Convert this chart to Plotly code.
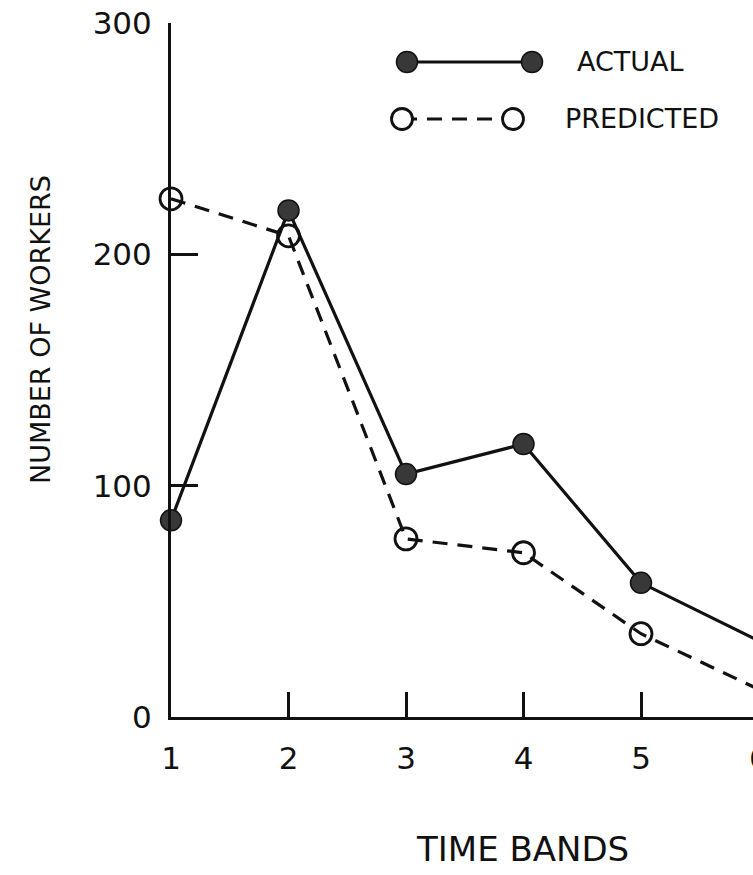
import plotly.graph_objects as go

# ---- data ----
bands = [1, 2, 3, 4, 5, 6]
actual = [85, 219, 105, 118, 58, 33]
predicted = [224, 208, 77, 71, 36, 12]
x_tick_vals = [1, 2, 3, 4, 5]
x_tick_text = ["1", "2", "3", "4", "5"]
y_tick_vals = [0, 100, 200, 300]
y_tick_text = ["0", "100", "200", "300"]
series_names = ["ACTUAL", "PREDICTED"]
x_title = "TIME BANDS"
y_title = "NUMBER OF WORKERS"
offscreen_tick = "6"

# ---- layout geometry ----
W, H = 753, 875
L, R, T, B = 171, 0, 23, 158
PW, PH = W - L - R, H - T - B
BAND_PX = 117.5
FONT = "DejaVu Sans"
INK = "#111111"


def pxx(p):
    return (p - L) / PW


def pxy(p):
    return (H - B - p) / PH


fig = go.Figure()

fig.add_trace(go.Scatter(
    x=bands, y=actual, mode="lines+markers", name=series_names[0],
    line=dict(color=INK, width=3.2),
    marker=dict(symbol="circle", size=21, color="#383838",
                line=dict(color=INK, width=1.5)),
    cliponaxis=False, showlegend=False,
))
fig.add_trace(go.Scatter(
    x=bands, y=predicted, mode="lines+markers", name=series_names[1],
    line=dict(color=INK, width=3.2, dash="15px,10px"),
    marker=dict(symbol="circle-open", size=22, color=INK,
                line=dict(color=INK, width=2.8)),
    cliponaxis=False, showlegend=False,
))

shapes = []
annotations = []

# legend: ACTUAL
ya = 62
shapes.append(dict(type="line", xref="paper", yref="paper",
                   x0=pxx(407), x1=pxx(532), y0=pxy(ya), y1=pxy(ya),
                   line=dict(color=INK, width=3)))
for cx in (407, 532):
    shapes.append(dict(type="circle", xref="paper", yref="paper",
                       xsizemode="pixel", ysizemode="pixel",
                       xanchor=pxx(cx), yanchor=pxy(ya),
                       x0=-10.5, x1=10.5, y0=-10.5, y1=10.5,
                       fillcolor="#383838", line=dict(color=INK, width=1.5)))
annotations.append(dict(text=series_names[0], x=pxx(575), y=pxy(ya),
                        xref="paper", yref="paper", xanchor="left",
                        yanchor="middle", showarrow=False,
                        font=dict(family=FONT, size=27, color=INK)))
# legend: PREDICTED
yp = 119
shapes.append(dict(type="line", xref="paper", yref="paper",
                   x0=pxx(402), x1=pxx(513), y0=pxy(yp), y1=pxy(yp),
                   line=dict(color=INK, width=3, dash="15px,10px")))
for cx in (402, 513):
    shapes.append(dict(type="circle", xref="paper", yref="paper",
                       xsizemode="pixel", ysizemode="pixel",
                       xanchor=pxx(cx), yanchor=pxy(yp),
                       x0=-10.5, x1=10.5, y0=-10.5, y1=10.5,
                       fillcolor="white", line=dict(color=INK, width=2.8)))
annotations.append(dict(text=series_names[1], x=pxx(563), y=pxy(yp),
                        xref="paper", yref="paper", xanchor="left",
                        yanchor="middle", showarrow=False,
                        font=dict(family=FONT, size=27, color=INK)))

# partially visible tick label beyond the right edge
annotations.append(dict(text=offscreen_tick, x=pxx(L + 5 * BAND_PX), y=pxy(758),
                        xref="paper", yref="paper", xanchor="center",
                        yanchor="middle", showarrow=False,
                        font=dict(family=FONT, size=31, color=INK)))
# axis titles
annotations.append(dict(text=y_title, x=pxx(40), y=pxy(330), xref="paper",
                        yref="paper", xanchor="center", yanchor="middle",
                        textangle=-90, showarrow=False,
                        font=dict(family=FONT, size=27, color=INK)))
annotations.append(dict(text=x_title, x=pxx(522), y=pxy(849), xref="paper",
                        yref="paper", xanchor="center", yanchor="middle",
                        showarrow=False,
                        font=dict(family=FONT, size=34, color=INK)))

fig.update_layout(
    width=W, height=H,
    margin=dict(l=L, r=R, t=T, b=B, pad=0),
    paper_bgcolor="white", plot_bgcolor="white",
    shapes=shapes, annotations=annotations,
    xaxis=dict(range=[1, 1 + PW / BAND_PX], showline=True, linewidth=3,
               linecolor=INK, ticks="inside", ticklen=25, tickwidth=2.5,
               tickcolor=INK, tickvals=x_tick_vals, ticktext=x_tick_text,
               tickfont=dict(family=FONT, size=31, color=INK),
               ticklabelstandoff=12, showgrid=False, zeroline=False),
    yaxis=dict(range=[0, 300], showline=True, linewidth=3, linecolor=INK,
               ticks="inside", ticklen=27, tickwidth=2.5, tickcolor=INK,
               tickvals=y_tick_vals, ticktext=y_tick_text,
               tickfont=dict(family=FONT, size=31, color=INK),
               ticklabelstandoff=10, showgrid=False, zeroline=False),
)

fig.write_html("out.html")
